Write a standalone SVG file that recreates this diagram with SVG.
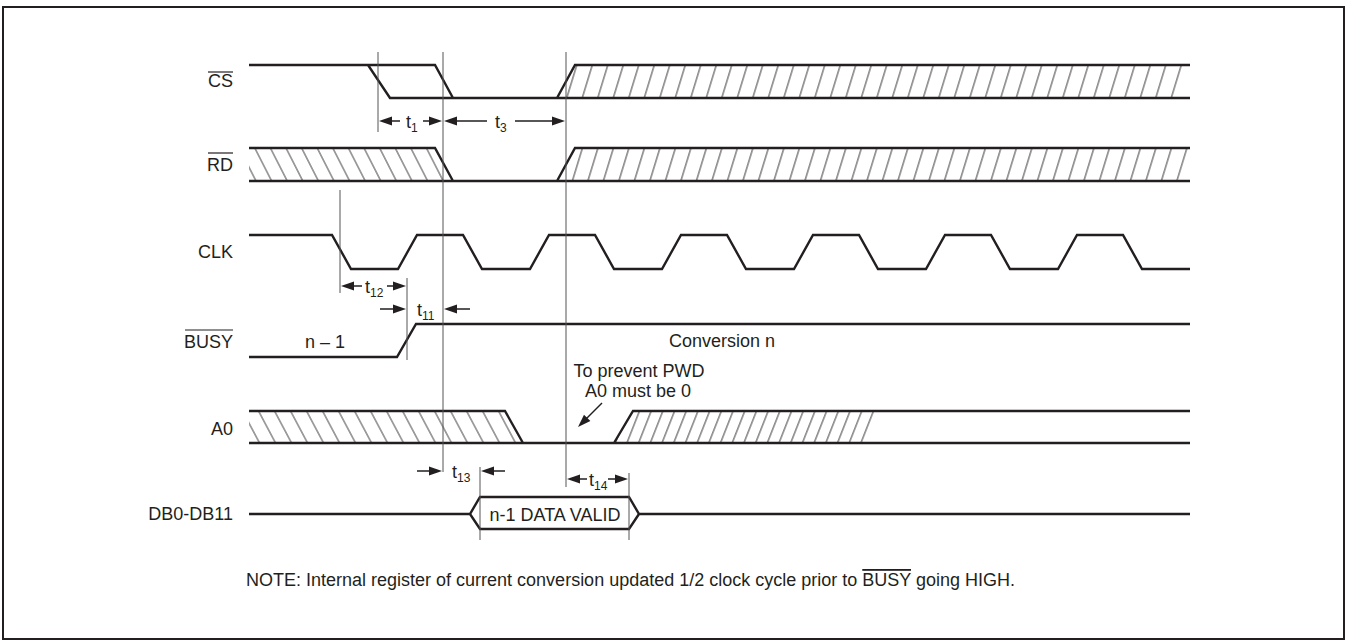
<svg xmlns="http://www.w3.org/2000/svg" width="1346" height="641" viewBox="0 0 1346 641">
<style>
.sig{fill:none;stroke:#231f20;stroke-width:2.4;stroke-linejoin:miter}
.ref{fill:none;stroke:#555;stroke-width:1}
.dim{fill:none;stroke:#231f20;stroke-width:1.5}
.lbl{font-family:"Liberation Sans",Arial,sans-serif;font-size:18px;fill:#231f20}
.t{font-family:"Liberation Sans",Arial,sans-serif;font-size:18px;fill:#231f20}
.sub{font-size:12px;fill:#231f20}
.ovl{stroke:#231f20;stroke-width:1.2}
.ah{fill:#231f20;stroke:none}
</style>
<defs>
<path id="arr" d="M0,0 L-13,-4.5 L-13,4.5 z"/>
<pattern id="hBack" patternUnits="userSpaceOnUse" width="15.6" height="40" patternTransform="skewX(27)"><line x1="7.8" y1="-1" x2="7.8" y2="41" stroke="#231f20" stroke-width="0.9"/></pattern>
<pattern id="hBackA" patternUnits="userSpaceOnUse" width="16" height="40" patternTransform="skewX(28)"><line x1="8" y1="-1" x2="8" y2="41" stroke="#231f20" stroke-width="0.9"/></pattern>
<pattern id="hFwd" patternUnits="userSpaceOnUse" width="15.5" height="40" patternTransform="skewX(-17)"><line x1="7.7" y1="-1" x2="7.7" y2="41" stroke="#231f20" stroke-width="0.9"/></pattern>
<pattern id="hFwdA" patternUnits="userSpaceOnUse" width="11.7" height="40" patternTransform="skewX(-21.5)"><line x1="5.8" y1="-1" x2="5.8" y2="41" stroke="#231f20" stroke-width="0.9"/></pattern>
</defs>
<rect x="3" y="7" width="1341" height="632" fill="#fff" stroke="#231f20" stroke-width="2"/>

<g id="cs">
<text class="lbl" x="233" y="87" text-anchor="end">CS</text>
<line class="ovl" x1="208" y1="72" x2="233" y2="72"/>
<polygon points="557,98 575,65 1190,65 1178,98" fill="url(#hFwd)"/>
<path class="sig" d="M249,65 H435 L453,98 M368,65 L390,98 H1190 M557,98 L575,65 H1190"/>
</g>

<g id="rd">
<text class="lbl" x="233" y="171" text-anchor="end">RD</text>
<line class="ovl" x1="208" y1="153" x2="233" y2="153"/>
<polygon points="249,148 435,148 453,181 249,181" fill="url(#hBack)"/>
<polygon points="557,181 575,148 1190,148 1178,181" fill="url(#hFwd)"/>
<path class="sig" d="M249,148 H435 L453,181 M249,181 H1190 M557,181 L575,148 H1190"/>
</g>

<g id="clk">
<text class="lbl" x="233" y="258" text-anchor="end">CLK</text>
<path class="sig" d="M249,235 H332 L351,269 H398 L417,235 H463 L482,269 H530 L549,235 H595 L614,269 H662 L681,235 H727 L746,269 H794 L813,235 H859 L878,269 H926 L945,235 H991 L1010,269 H1058 L1077,235 H1123 L1142,269 H1190"/>
</g>

<g id="busy">
<text class="lbl" x="233" y="348" text-anchor="end">BUSY</text>
<line class="ovl" x1="185" y1="330" x2="233" y2="330"/>
<text class="lbl" x="325" y="348" text-anchor="middle">n – 1</text>
<text class="lbl" x="722" y="347" text-anchor="middle">Conversion n</text>
<path class="sig" d="M249,357 H397 L416,324 H1190"/>
</g>

<g id="a0">
<text class="lbl" x="233" y="435" text-anchor="end">A0</text>
<polygon points="249,411 505,411 523,443 249,443" fill="url(#hBackA)"/>
<polygon points="614,443 633,411 880,411 867,443" fill="url(#hFwdA)"/>
<path class="sig" d="M249,411 H505 L523,443 M249,443 H1190 M614,443 L633,411 H1190"/>
<text class="lbl" x="639" y="377" text-anchor="middle">To prevent PWD</text>
<text class="lbl" x="638" y="397" text-anchor="middle">A0 must be 0</text>
</g>

<g id="db">
<text class="lbl" x="233" y="520" text-anchor="end">DB0-DB11</text>
<path class="sig" d="M249,514 H470 L480,497 H629 L639,514 H1190 M470,514 L480,529 H629 L639,514"/>
<text class="lbl" x="555" y="521" text-anchor="middle">n-1 DATA VALID</text>
</g>

<g id="connectors">
<line class="ref" x1="378" y1="52" x2="378" y2="132"/>
<line class="ref" x1="443" y1="52" x2="443" y2="472"/>
<line class="ref" x1="566" y1="52" x2="566" y2="487"/>
<line class="ref" x1="340" y1="190" x2="340" y2="293"/>
<line class="ref" x1="407" y1="278" x2="407" y2="360"/>
<line class="ref" x1="480" y1="467" x2="480" y2="540"/>
<line class="ref" x1="629" y1="473" x2="629" y2="540"/>

<path class="dim" d="M400,121 H385 M423,121 H436 M487,121 H450 M515,121 H559"/>
<use href="#arr" class="ah" transform="translate(379,121) rotate(180)"/>
<use href="#arr" class="ah" transform="translate(442,121)"/>
<use href="#arr" class="ah" transform="translate(444,121) rotate(180)"/>
<use href="#arr" class="ah" transform="translate(565,121)"/>

<path class="dim" d="M362,286 H347 M387,286 H400 M380,309 H400 M470,309 H450"/>
<use href="#arr" class="ah" transform="translate(341,286) rotate(180)"/>
<use href="#arr" class="ah" transform="translate(406,286)"/>
<use href="#arr" class="ah" transform="translate(406,309)"/>
<use href="#arr" class="ah" transform="translate(444,309) rotate(180)"/>

<path class="dim" d="M417,471 H436 M505,471 H487 M587,479 H573 M608,479 H622"/>
<use href="#arr" class="ah" transform="translate(442,471)"/>
<use href="#arr" class="ah" transform="translate(481,471) rotate(180)"/>
<use href="#arr" class="ah" transform="translate(567,479) rotate(180)"/>
<use href="#arr" class="ah" transform="translate(628,479)"/>

<path class="dim" d="M602,403 L583,422"/>
<use href="#arr" class="ah" transform="translate(578,427) rotate(135)"/>
</g>

<g id="timing-labels">
<text class="t" x="406" y="128">t<tspan class="sub" dy="4">1</tspan></text>
<text class="t" x="495" y="128">t<tspan class="sub" dy="4">3</tspan></text>
<text class="t" x="365" y="293">t<tspan class="sub" dy="4">12</tspan></text>
<text class="t" x="417" y="316">t<tspan class="sub" dy="4">11</tspan></text>
<text class="t" x="452" y="478">t<tspan class="sub" dy="4">13</tspan></text>
<text class="t" x="589" y="486">t<tspan class="sub" dy="4">14</tspan></text>
</g>

<g id="note">
<text class="lbl" x="246" y="586">NOTE: Internal register of current conversion updated 1/2 clock cycle prior to <tspan text-decoration="overline">BUSY</tspan> going HIGH.</text>
</g>
</svg>
